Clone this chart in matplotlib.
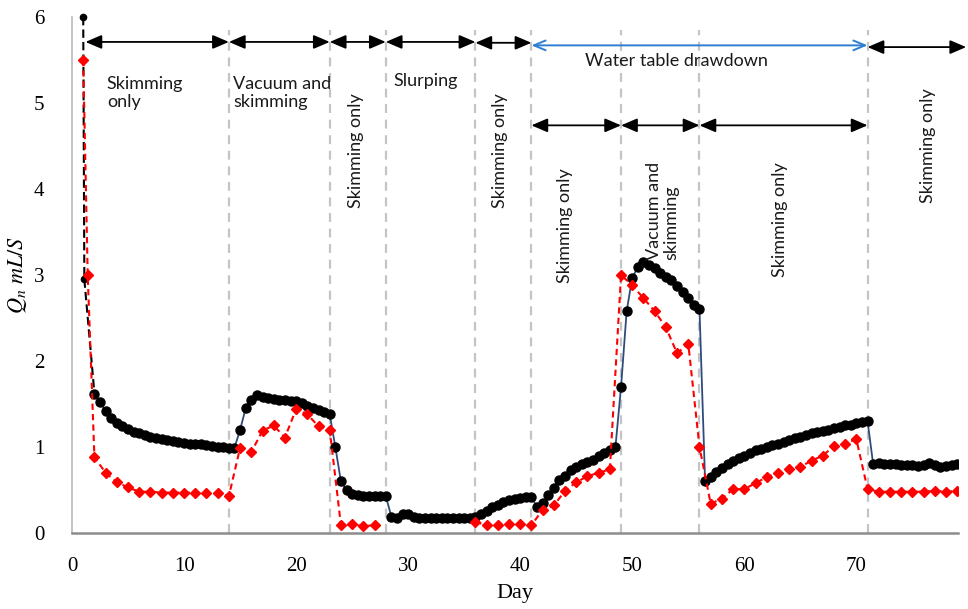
import matplotlib
matplotlib.use("Agg")
import matplotlib.pyplot as plt
import numpy as np

plt.rcParams['mathtext.fontset'] = 'stix'

# black series (circles), start points + half-day readings from day 2
blk_start_day = [1.0, 1.1, 2.0]
blk_start_q = [6.0, 2.95, 1.62]
blk_day = np.arange(2.0, 79.5, 0.5)
blk_q = [1.62, 1.52, 1.42, 1.34, 1.28, 1.24, 1.21, 1.18, 1.16, 1.14,   # 2-6.5
         1.12, 1.11, 1.09, 1.08, 1.07, 1.06, 1.05, 1.04, 1.04, 1.03,   # 7-11.5
         1.02, 1.01, 1.00, 1.00, 0.99, 0.99, 1.20, 1.45, 1.55, 1.60,   # 12-16.5
         1.58, 1.57, 1.56, 1.55, 1.55, 1.54, 1.53, 1.51, 1.48, 1.45,   # 17-21.5
         1.43, 1.41, 1.38, 1.00, 0.60, 0.50, 0.45, 0.44, 0.43, 0.43,   # 22-26.5
         0.43, 0.43, 0.43, 0.19, 0.17, 0.22, 0.22, 0.19, 0.18, 0.18,   # 27-31.5
         0.18, 0.18, 0.18, 0.17, 0.17, 0.18, 0.18, 0.18, 0.19, 0.22,   # 32-36.5
         0.26, 0.30, 0.33, 0.36, 0.38, 0.40, 0.41, 0.42, 0.42, 0.30,   # 37-41.5
         0.35, 0.44, 0.52, 0.62, 0.66, 0.73, 0.77, 0.80, 0.83, 0.85,   # 42-46.5
         0.90, 0.93, 0.96, 1.00, 1.70, 2.58, 2.97, 3.09, 3.15, 3.12,   # 47-51.5
         3.08, 3.02, 2.98, 2.94, 2.87, 2.80, 2.73, 2.65, 2.60, 0.60,   # 52-56.5
         0.65, 0.71, 0.76, 0.80, 0.84, 0.87, 0.90, 0.93, 0.96, 0.98,   # 57-61.5
         1.00, 1.02, 1.04, 1.06, 1.08, 1.10, 1.12, 1.14, 1.16, 1.17,   # 62-66.5
         1.19, 1.20, 1.22, 1.23, 1.25, 1.26, 1.28, 1.29, 1.30, 0.80,   # 67-71.5
         0.81, 0.80, 0.80, 0.80, 0.79, 0.79, 0.79, 0.78, 0.79, 0.81,   # 72-76.5
         0.79, 0.77, 0.78, 0.79, 0.80]                                 # 77-79

# red series (diamonds), daily; no readings during slurping (28-35)
red_day = [1.0, 1.4] + list(range(2, 28)) + list(range(36, 80))
red_q = [5.5, 3.0,
         0.88, 0.70, 0.59, 0.53, 0.48, 0.48, 0.47, 0.47, 0.47, 0.47,   # 2-11
         0.46, 0.46, 0.43, 0.99, 0.94, 1.19, 1.25, 1.11, 1.44, 1.38,   # 12-21
         1.24, 1.20, 0.09, 0.10, 0.08, 0.09,                           # 22-27
         0.13, 0.09, 0.09, 0.10, 0.10, 0.09, 0.27, 0.32, 0.49, 0.59,   # 36-45
         0.66, 0.70, 0.74, 3.00, 2.88, 2.73, 2.58, 2.39, 2.09, 2.20,   # 46-55
         1.00, 0.34, 0.40, 0.51, 0.51, 0.58, 0.65, 0.70, 0.74, 0.77,   # 56-65
         0.84, 0.90, 1.01, 1.04, 1.09, 0.51, 0.48, 0.48, 0.48, 0.48,   # 66-75
         0.48, 0.49, 0.48, 0.49]                                       # 76-79

phase_lines = [14, 23, 28, 36, 41, 49, 56, 71]

# arrows: (start, end, y)
top_arrows = [(1.2, 14, 5.71), (14, 23, 5.71), (23, 28, 5.71), (28, 36, 5.71),
              (36, 41, 5.70), (71, 79.8, 5.65)]
drawdown_arrow = (41, 71, 5.67)
low_arrows = [(41, 49, 4.74), (49, 56, 4.74), (56, 71, 4.74)]

# labels: (x, y, text, rotation, ha)
labels = [(3.1, 5.12, "Skimming\nonly", 0, 'left'),
          (14.4, 5.12, "Vacuum and\nskimming", 0, 'left'),
          (25.3, 4.45, "Skimming only", 90, 'center'),
          (28.7, 5.25, "Slurping", 0, 'left'),
          (38.2, 4.45, "Skimming only", 90, 'center'),
          (53.9, 5.49, "Water table drawdown", 0, 'center'),
          (44.0, 3.57, "Skimming only", 90, 'center'),
          (52.7, 3.74, "Vacuum and\nskimming", 90, 'center'),
          (63.2, 3.64, "Skimming only", 90, 'center'),
          (76.4, 4.51, "Skimming only", 90, 'center')]

fig = plt.figure(figsize=(9.68, 6.09), dpi=100)
ax = fig.add_axes([0.0744, 0.1248, 0.9156, 0.8473])

for d in phase_lines:
    ax.plot([d, d], [0, 5.85], color='#C4C4C4', lw=1.6, ls=(0, (4, 3)), zorder=1)

# black
ax.plot(blk_start_day, blk_start_q, color='black', ls=(0, (4, 2)), lw=1.5, zorder=3,
        clip_on=False)
ax.plot(blk_start_day[:2], blk_start_q[:2], 'o', color='black', ms=4.5, zorder=4,
        clip_on=False)
ax.plot(blk_day, blk_q, color='#2F4B7C', lw=1.3, marker='o', ms=6.5,
        mfc='black', mec='black', zorder=3)

# red
red_line = np.array(red_q, dtype=float)
red_x = np.array(red_day, dtype=float)
seg = red_x < 28
ax.plot(red_x[seg], red_line[seg], color='red', ls=(0, (3, 2)), lw=1.5,
        marker='D', ms=5.5, zorder=5)
ax.plot(red_x[~seg], red_line[~seg], color='red', ls=(0, (3, 2)), lw=1.5,
        marker='D', ms=5.5, zorder=5)

for x0, x1, y in top_arrows + low_arrows:
    ax.annotate('', xy=(x1, y), xytext=(x0, y), annotation_clip=False,
                arrowprops=dict(arrowstyle='<|-|>,head_length=0.7,head_width=0.3',
                                color='black', lw=1.3, shrinkA=0, shrinkB=0,
                                mutation_scale=14))
x0, x1, y = drawdown_arrow
ax.annotate('', xy=(x1, y), xytext=(x0, y), annotation_clip=False,
            arrowprops=dict(arrowstyle='<->,head_length=0.6,head_width=0.25',
                            color='#2E7FD3', lw=1.4, shrinkA=0, shrinkB=0,
                            mutation_scale=14))

for x, y, txt, rot, ha in labels:
    ax.text(x, y, txt, rotation=rot, ha=ha, va='center', fontsize=13,
            family='Lato', color='#1a1a1a', multialignment='left', linespacing=1.15)

ax.set_xlim(0, 79.1)
ax.set_ylim(0, 6)
ax.set_xticks(range(0, 80, 10))
ax.set_yticks(range(0, 7))
ax.tick_params(length=0, labelsize=15, pad=20)
for lab in ax.get_xticklabels() + ax.get_yticklabels():
    lab.set_family('Liberation Serif')
ax.tick_params(axis='x', pad=17)
ax.spines['top'].set_visible(False)
ax.spines['right'].set_visible(False)
ax.spines['left'].set_color('#BFBFBF')
ax.spines['left'].set_linewidth(1.3)
ax.spines['bottom'].set_color('#8C8C8C')
ax.spines['bottom'].set_linewidth(1.8)

ax.set_xlabel('Day', family='Liberation Serif', fontsize=16, labelpad=6)
ax.set_ylabel(r'$Q_n\ mL/S$', fontsize=16)
ax.yaxis.set_label_coords(-0.049, 0.5)

fig.savefig('out.png', dpi=100)
